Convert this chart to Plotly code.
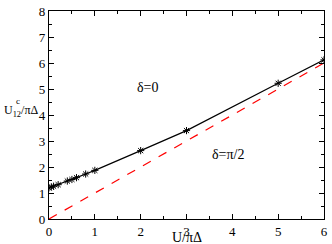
import plotly.graph_objects as go

u_vals = [0, 0.05, 0.1, 0.2, 0.4, 0.5, 0.6, 0.8, 1.0, 2, 3, 5, 6]
uc_vals = [1.2, 1.23, 1.26, 1.32, 1.46, 1.52, 1.59, 1.73, 1.87, 2.63, 3.40, 5.22, 6.12]
ref_x = [0, 6]
ref_y = [0, 6]

font = "Liberation Serif"

fig = go.Figure()
fig.add_trace(go.Scatter(x=ref_x, y=ref_y, mode="lines",
                         line=dict(color="#ff0000", width=1.2, dash="dash")))
fig.add_trace(go.Scatter(x=u_vals, y=uc_vals, mode="lines+markers",
                         line=dict(color="black", width=1.2),
                         marker=dict(symbol="asterisk-open", size=6,
                                     line=dict(color="#333333", width=1))))

axis_common = dict(showline=True, linecolor="black", linewidth=1.2, mirror="allticks",
                   ticks="inside", ticklen=5, tickcolor="black", showgrid=False,
                   zeroline=False, ticklabeloverflow="allow",
                   tickfont=dict(family=font, size=13, color="black"))
fig.update_xaxes(range=[0, 6], dtick=1, minor=dict(ticks="inside", dtick=0.5, ticklen=3,
                 tickcolor="black"), **axis_common)
fig.update_yaxes(range=[0, 8], dtick=1, minor=dict(ticks="inside", dtick=0.5, ticklen=3,
                 tickcolor="black"), **axis_common)

fig.update_layout(
    width=332, height=244, showlegend=False,
    margin=dict(l=49, r=4, t=5, b=25),
    plot_bgcolor="white", paper_bgcolor="white",
    font=dict(family=font, color="black"),
    annotations=[
        dict(text="U/πΔ", xref="paper", yref="paper", x=0.5, y=-0.09, yanchor="middle",
             showarrow=False, font=dict(family=font, size=14)),
        dict(text="U<sub>12</sub>/πΔ", xref="paper", yref="paper", x=-0.171, y=0.52,
             xanchor="left", yanchor="middle", showarrow=False, font=dict(family=font, size=12)),
        dict(text="c", xref="paper", yref="paper", x=-0.128, y=0.565,
             xanchor="left", yanchor="middle", showarrow=False, font=dict(family=font, size=9)),
        dict(text="δ=0", x=2.17, y=5.05, showarrow=False, font=dict(family=font, size=14)),
        dict(text="δ=π/2", x=3.91, y=2.5, showarrow=False, font=dict(family=font, size=14)),
    ],
)
fig.write_html("out.html", config={"displayModeBar": False},
               post_script="document.body.style.margin='0';document.body.style.overflow='hidden';")
